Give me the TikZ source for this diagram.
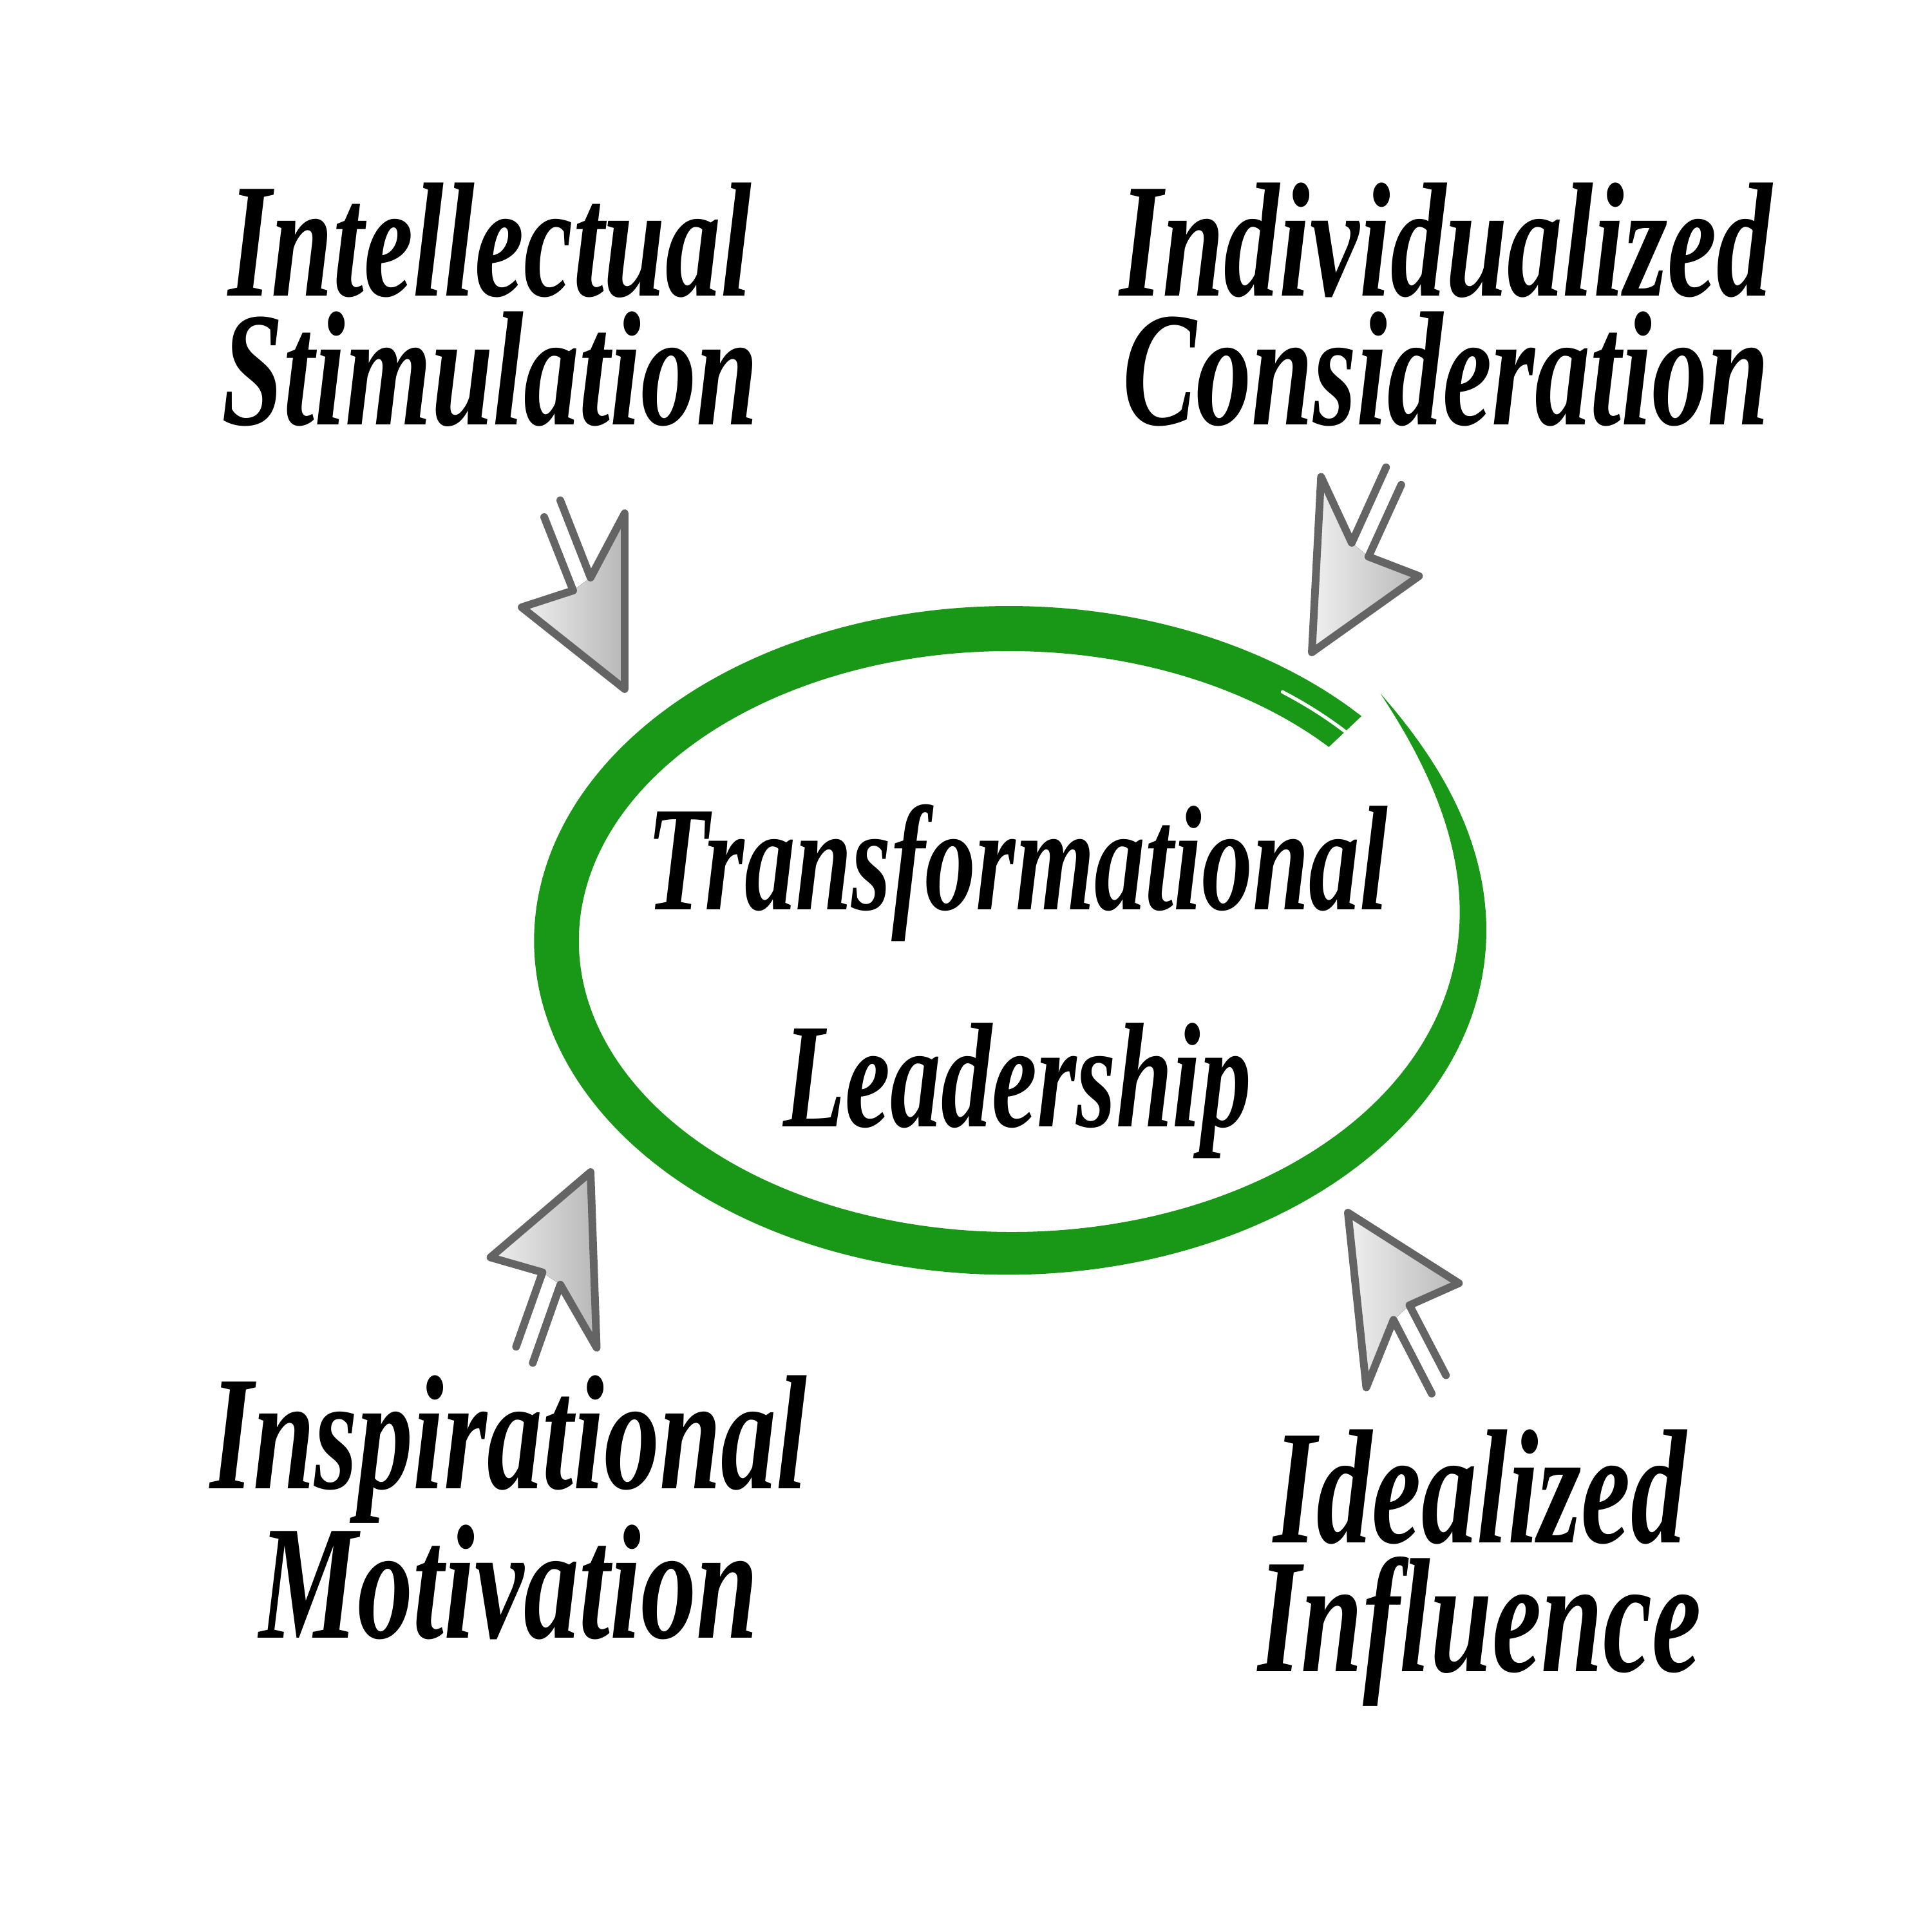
\documentclass[tikz,border=0pt]{standalone}
\usepackage{fontspec}
\newfontfamily\labelfont[FakeStretch=0.68]{Liberation Serif}
\definecolor{brushgreen}{RGB}{24,152,22}
\definecolor{cursorgray}{RGB}{100,100,100}
\tikzset{
  declare function={brushw(\s)=0.70*(1-exp(-8*\s));
                    brushf(\s)=1+0.14*exp(-15*\s);
                    brusht(\s)=44-362*\s;},
  cornertext/.style={font=\labelfont\bfseries\itshape\fontsize{72}{57}\selectfont,align=center,anchor=base},
  centertext/.style={font=\labelfont\bfseries\itshape\fontsize{66}{96}\selectfont,align=center,anchor=base},
  cursor/.pic={
    \fill[left color=black!6,right color=black!28] (0.53,-1.73) -- (0,-2.73) -- (0,0) -- (1.6,-1.27) -- (0.8,-1.53) -- cycle;
    \draw[cursorgray,line width=3.4pt,line join=round,line cap=round]
      (1,-2.93) -- (0.53,-1.73) -- (0,-2.73) -- (0,0) -- (1.6,-1.27) -- (0.8,-1.53) -- (1.25,-2.67);
  }
}
\begin{document}
\begin{tikzpicture}
  \useasboundingbox (0,0) rectangle (30,30);
  % brush stroke round the centre
  \fill[brushgreen] plot[domain=0:1,samples=160,smooth]
      ({15.67+(7.03*brushf(\x)+brushw(\x)/2)*cos(brusht(\x))},{15.39+(4.85*brushf(\x)+brushw(\x)/2)*sin(brusht(\x))})
    -- plot[domain=0:1,samples=160,smooth]
      ({15.67+(7.03*brushf(1-\x)-brushw(1-\x)/2)*cos(brusht(1-\x))},{15.39+(4.85*brushf(1-\x)-brushw(1-\x)/2)*sin(brusht(1-\x))})
    -- cycle;
  \draw[white,line width=1.5pt,line cap=round] plot[domain=0.97:1,samples=10,smooth]
      ({15.67+7.03*brushf(\x)*cos(brusht(\x))},{15.39+4.85*brushf(\x)*sin(brusht(\x))});

  \node[centertext] (transf) at (15.8,12.50) {Transformational\\Leadership};

  \node[cornertext] (intel) at (7.61,23.40) {Intellectual\\Stimulation};
  \node[cornertext] (indiv) at (22.45,23.40) {Individualized\\Consideration};
  \node[cornertext] (inspir) at (7.9,4.56) {Inspirational\\Motivation};
  \node[cornertext] (ideal) at (22.98,4.04) {Idealized\\Influence};

  % pointers
  \pic[rotate=180] at (9.70,19.30) {cursor};
  \pic[rotate=-3,yscale=-1] at (20.37,19.87) {cursor};
  \pic[rotate=2,xscale=-1] at (9.17,11.80) {cursor};
  \pic[rotate=6] at (20.93,11.17) {cursor};
\end{tikzpicture}
\end{document}
